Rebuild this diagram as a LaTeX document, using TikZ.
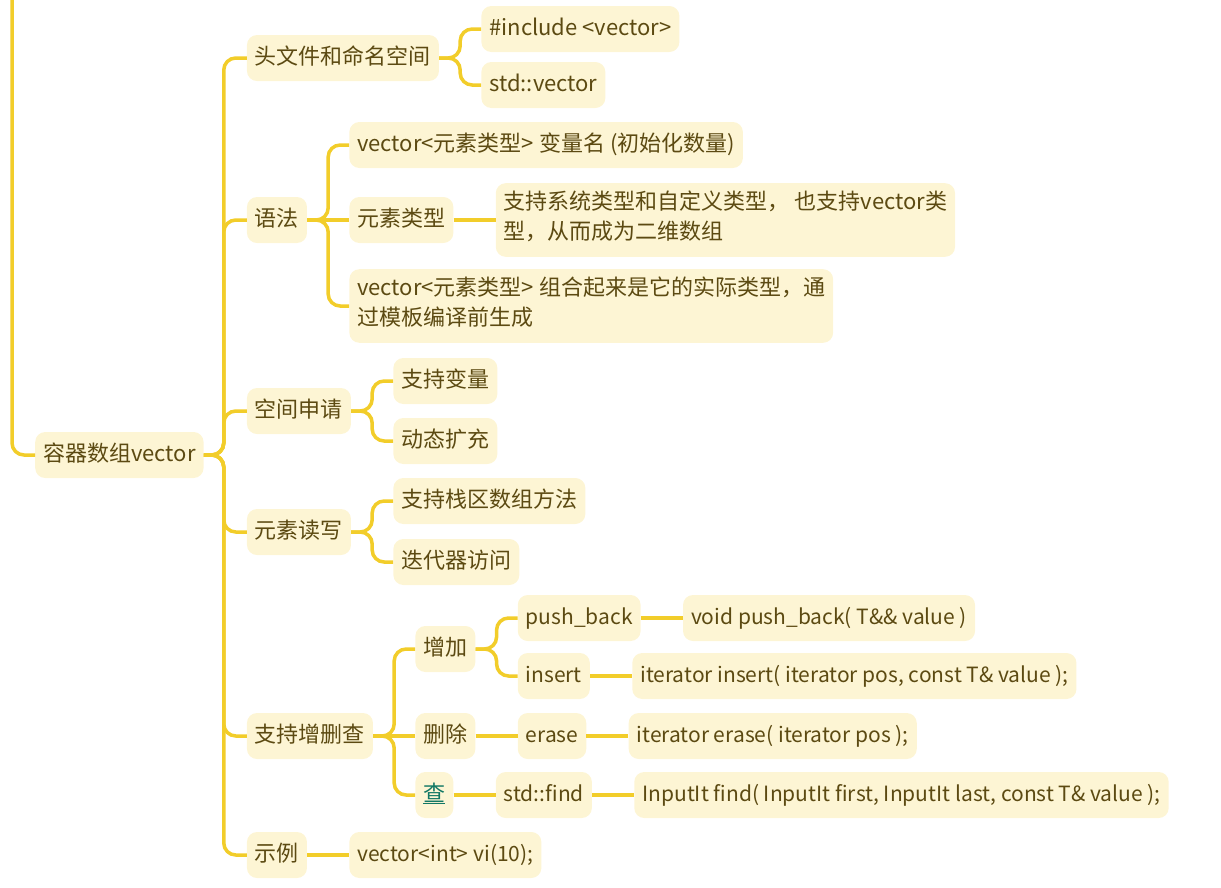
\documentclass[tikz,border=0pt]{standalone}
\usepackage{fontspec}
\setmainfont{Noto Sans CJK SC}
\usetikzlibrary{positioning,calc}
\definecolor{map_line}{RGB}{242,205,42}
\definecolor{map_fill}{RGB}{253,245,212}
\definecolor{map_text}{RGB}{92,74,18}
\definecolor{map_link}{RGB}{18,120,100}
\tikzset{
  topic/.style = {draw=none, fill=map_fill, text=map_text, rounded corners=10pt,
  align=left, inner xsep=8pt, inner ysep=8pt, minimum height=46pt,
  font=\fontsize{22}{30}\selectfont, execute at begin node=\strut, execute at end node=\strut},
  code/.style = {topic, font=\fontsize{21}{30}\selectfont},
  branch/.style = {draw=map_line, line width=3.5pt, rounded corners=12pt}
}

\begin{document}
\begin{tikzpicture}[x=1pt, y=-1pt, node distance=42pt]
    \useasboundingbox (0,0) rectangle (1221,887);
    % root and first level
    \node [topic, anchor=west] (vec) at (35,455) {容器数组vector};
    \node [topic, right=43pt of vec, yshift=397pt] (hdr) {头文件和命名空间};
    \node [topic, right=43pt of vec, yshift=235pt] (syn) {语法};
    \node [topic, right=43pt of vec, yshift=44pt] (space) {空间申请};
    \node [topic, right=43pt of vec, yshift=-77pt] (rw) {元素读写};
    \node [topic, right=43pt of vec, yshift=-281pt] (crud) {支持增删查};
    \node [topic, right=43pt of vec, yshift=-400pt] (ex) {示例};
    % header
    \node [topic, right=of hdr, yshift=29pt] (inc) {\#include <vector>};
    \node [topic, right=of hdr, yshift=-27pt] (stdv) {std::vector};
    % syntax
    \node [topic, right=of syn, yshift=75pt] (decl) {vector<元素类型> 变量名 (初始化数量)};
    \node [topic, right=of syn] (etype) {元素类型};
    \node [topic, right=of etype] (etypenote) {支持系统类型和自定义类型， 也支持vector类\\型，从而成为二维数组};
    \node [topic, right=of syn, yshift=-86pt] (real) {vector<元素类型> 组合起来是它的实际类型，通\\过模板编译前生成};
    % space
    \node [topic, right=of space, yshift=30pt] (var) {支持变量};
    \node [topic, right=of space, yshift=-30pt] (dyn) {动态扩充};
    % read / write
    \node [topic, right=of rw, yshift=31pt] (stackarr) {支持栈区数组方法};
    \node [topic, right=of rw, yshift=-30pt] (iter) {迭代器访问};
    % add / erase / find
    \node [topic, right=of crud, yshift=87pt] (add) {增加};
    \node [topic, right=of crud] (del) {删除};
    \node [topic, right=of crud, yshift=-59pt] (find) {\textcolor{map_link}{\underline{查}}};
    \node [code, right=of add, yshift=31pt] (pb) {push\_back};
    \node [code, right=of add, yshift=-27pt] (ins) {insert};
    \node [code, right=of pb] (pbsig) {void push\_back( T\&\& value )};
    \node [code, right=of ins] (inssig) {iterator insert( iterator pos, const T\& value );};
    \node [code, right=of del] (erase) {erase};
    \node [code, right=of erase] (erasesig) {iterator erase( iterator pos );};
    \node [code, right=of find] (stdfind) {std::find};
    \node [code, right=of stdfind] (findsig) {InputIt find( InputIt first, InputIt last, const T\& value );};
    % example
    \node [code, right=of ex] (exv) {vector<int> vi(10);};

    % connectors
    \coordinate (feed) at (12,0);
    \draw [branch] (feed) |- (vec.west);
    \foreach \k in {hdr,syn,space,rw,crud,ex}
        \draw [branch] (vec.east) -- ++(20,0) |- (\k.west);
    \foreach \p/\c in {hdr/inc, hdr/stdv, syn/decl, syn/real, space/var, space/dyn,
                       rw/stackarr, rw/iter, crud/add, crud/find, add/pb, add/ins}
        \draw [branch] (\p.east) -- ++(21,0) |- (\c.west);
    \foreach \p/\c in {syn/etype, etype/etypenote, crud/del, pb/pbsig, ins/inssig,
                       del/erase, erase/erasesig, find/stdfind, stdfind/findsig, ex/exv}
        \draw [branch] (\p.east) -- (\c.west);
\end{tikzpicture}
\end{document}
